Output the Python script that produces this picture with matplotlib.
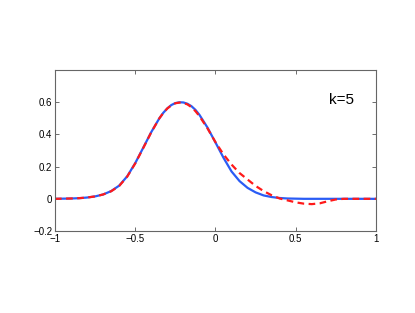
import numpy as np
import matplotlib
matplotlib.use("Agg")
import matplotlib.pyplot as plt

# sample positions and curve values
x = [-1.00, -0.95, -0.90, -0.85, -0.80, -0.75, -0.70, -0.65, -0.60, -0.55,
     -0.50, -0.45, -0.40, -0.35, -0.325, -0.30, -0.275, -0.25, -0.225, -0.20,
     -0.175, -0.15, -0.125, -0.10, -0.05,
     0.00, 0.05, 0.10, 0.15, 0.20, 0.25, 0.30, 0.35, 0.40, 0.45,
     0.50, 0.55, 0.60, 0.65, 0.70, 0.75, 0.80, 0.85, 0.90, 0.95, 1.00]
exact = [0.000, 0.001, 0.002, 0.004, 0.008, 0.015, 0.027, 0.048, 0.082, 0.140,
         0.222, 0.318, 0.415, 0.500, 0.535, 0.562, 0.583, 0.595, 0.600, 0.599,
         0.591, 0.576, 0.553, 0.522, 0.443,
         0.350, 0.255, 0.170, 0.110, 0.068, 0.040, 0.021, 0.011, 0.005, 0.002,
         0.001, 0.000, 0.000, 0.000, 0.000, 0.000, 0.000, 0.000, 0.000, 0.000, 0.000]
approx = [0.000, 0.001, 0.002, 0.004, 0.008, 0.015, 0.027, 0.047, 0.080, 0.138,
          0.220, 0.316, 0.414, 0.500, 0.534, 0.562, 0.581, 0.594, 0.598, 0.596,
          0.587, 0.570, 0.545, 0.514, 0.438,
          0.352, 0.276, 0.213, 0.160, 0.120, 0.080, 0.048, 0.022, 0.002, -0.010,
          -0.022, -0.030, -0.033, -0.028, -0.015, -0.004, 0.000, 0.000, 0.000, 0.000, 0.000]
label = "k=5"
yticks = [-0.2, 0, 0.2, 0.4, 0.6]
xticks = [-1, -0.5, 0, 0.5, 1]

plt.rcParams["font.family"] = ["Liberation Sans", "DejaVu Sans"]
fig = plt.figure(figsize=(4.15, 3.13), dpi=100)
ax = fig.add_axes([0.1325, 0.262, 0.7735, 0.514])
ax.plot(x, exact, color="#2a5cf5", lw=1.6)
ax.plot(x, approx, color="#ff1a1a", lw=1.6, ls=(0, (3, 2)))
ax.set_xlim(-1, 1)
ax.set_ylim(-0.2, 0.8)
ax.set_xticks(xticks)
ax.set_xticklabels(["\u22121", "\u22120.5", "0", "0.5", "1"])
ax.set_yticks(yticks)
ax.set_yticklabels(["\u22120.2", "0", "0.2", "0.4", "0.6"])
ax.tick_params(direction="in", length=3, width=0.6, labelsize=7, pad=2,
               top=True, right=True, color="#555555")
for s in ax.spines.values():
    s.set_color("#666666")
    s.set_linewidth(0.8)
ax.text(0.71, 0.615, label, fontsize=11, va="center", ha="left")
fig.savefig("out.png", dpi=100)
